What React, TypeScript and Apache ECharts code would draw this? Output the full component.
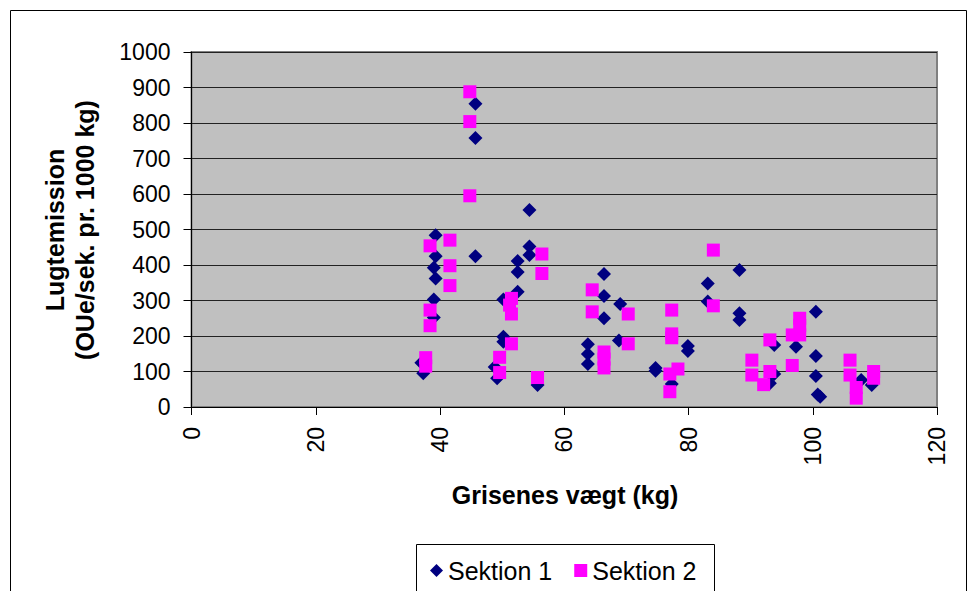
import React, { useEffect, useRef } from "react";
import * as echarts from "echarts";

const seriesNames = ["Sektion 1", "Sektion 2"];

const sektion1: [number, number][] = [
  [37.0, 125], [37.3, 95],
  [39.3, 484], [39.3, 425], [39.0, 392], [39.3, 362], [39.0, 303], [39.0, 252],
  [45.7, 854], [45.7, 758], [45.7, 425],
  [49.2, 81], [48.8, 113], [50.2, 303], [50.2, 198], [50.2, 184],
  [52.5, 411], [52.5, 380], [52.5, 325],
  [54.4, 555], [54.4, 452], [54.4, 428],
  [55.7, 62],
  [63.8, 177], [63.8, 149], [63.8, 121],
  [66.4, 375], [66.4, 313], [66.4, 250],
  [69.0, 290], [68.8, 187],
  [74.7, 110], [74.7, 102],
  [77.3, 65],
  [79.9, 172], [79.9, 158],
  [83.1, 348], [83.1, 297],
  [88.2, 386], [88.2, 264], [88.2, 245],
  [93.8, 175], [93.8, 93], [93.1, 67],
  [97.3, 170],
  [100.5, 268], [100.5, 144], [100.5, 87], [101.2, 29], [100.8, 35],
  [107.8, 76], [109.5, 62],
];

const sektion2: [number, number][] = [
  [37.7, 139], [37.7, 115],
  [38.4, 454], [38.4, 273], [38.4, 229],
  [41.6, 470], [41.6, 398], [41.6, 342],
  [44.8, 888], [44.8, 804], [44.8, 595],
  [49.6, 140], [49.6, 97],
  [51.5, 306], [51.2, 287], [51.5, 262], [51.5, 178],
  [55.7, 83],
  [56.4, 431], [56.4, 376],
  [64.5, 330], [64.5, 268],
  [66.4, 155], [66.4, 135], [66.4, 110],
  [70.3, 262], [70.3, 178],
  [77.0, 93], [77.0, 43], [77.3, 273], [77.3, 206], [77.3, 195],
  [78.3, 107],
  [84.0, 442], [84.0, 285],
  [90.2, 132], [90.2, 90],
  [92.1, 63],
  [93.1, 189], [93.1, 100],
  [96.7, 117], [96.7, 203],
  [97.9, 250], [97.9, 230], [97.9, 203],
  [106.0, 132], [106.0, 90],
  [107.0, 55], [107.0, 25],
  [109.8, 100], [109.8, 81],
];

const xTitle = "Grisenes vægt (kg)";
const yTitle1 = "Lugtemission";
const yTitle2 = "(OUe/sek. pr. 1000 kg)";

const FONT = "'Liberation Sans', Arial, sans-serif";

export default function App() {
  const ref = useRef<HTMLDivElement>(null);
  useEffect(() => {
    document.body.style.margin = "0";
    const chart = echarts.init(ref.current!, null, { renderer: "svg" });
    chart.setOption({
      animation: false,
      backgroundColor: "#ffffff",
      textStyle: { fontFamily: FONT },
      grid: {
        left: 191.5,
        top: 52,
        width: 745.5,
        height: 355,
        show: true,
        backgroundColor: "#C0C0C0",
        borderColor: "#808080",
        borderWidth: 2,
      },
      xAxis: {
        type: "value",
        min: 0,
        max: 120,
        interval: 20,
        axisLine: { show: true, onZero: false, lineStyle: { color: "#000", width: 1 } },
        axisTick: { show: true, inside: false, length: 8, lineStyle: { color: "#000" } },
        splitLine: { show: false },
        axisLabel: {
          rotate: 90,
          margin: 20,
          fontSize: 23,
          color: "#000",
          fontFamily: FONT,
          formatter: (v: number) => String(v),
        },
      },
      yAxis: {
        type: "value",
        min: 0,
        max: 1000,
        interval: 100,
        axisLine: { show: true, lineStyle: { color: "#000", width: 1 } },
        axisTick: { show: true, inside: false, length: 8, lineStyle: { color: "#000" } },
        splitLine: { show: true, lineStyle: { color: "#222", width: 1 } },
        axisLabel: {
          margin: 21,
          fontSize: 23,
          color: "#000",
          fontFamily: FONT,
          formatter: (v: number) => String(v),
        },
      },
      legend: {
        left: 425,
        top: 553,
        itemWidth: 13,
        itemHeight: 13,
        itemGap: 22,
        textStyle: { fontSize: 25, color: "#000", fontFamily: FONT },
        data: [
          { name: seriesNames[0], icon: "diamond" },
          { name: seriesNames[1], icon: "rect" },
        ],
      },
      graphic: [
        {
          type: "rect",
          silent: true,
          z: 100,
          shape: { x: 10.5, y: 10.5, width: 956, height: 620 },
          style: { fill: "none", stroke: "#000", lineWidth: 1 },
        },
        {
          type: "rect",
          silent: true,
          z: 100,
          shape: { x: 416.5, y: 544.5, width: 298, height: 80 },
          style: { fill: "none", stroke: "#000", lineWidth: 1 },
        },
        {
          type: "text",
          x: 565,
          y: 495,
          style: {
            text: xTitle,
            fontSize: 25,
            fontWeight: "bold",
            fontFamily: FONT,
            fill: "#000",
            align: "center",
            verticalAlign: "middle",
          },
        },
        {
          type: "text",
          x: 55,
          y: 230,
          rotation: Math.PI / 2,
          style: {
            text: yTitle1,
            fontSize: 25,
            fontWeight: "bold",
            fontFamily: FONT,
            fill: "#000",
            align: "center",
            verticalAlign: "middle",
          },
        },
        {
          type: "text",
          x: 85,
          y: 230,
          rotation: Math.PI / 2,
          style: {
            text: yTitle2,
            fontSize: 25,
            fontWeight: "bold",
            fontFamily: FONT,
            fill: "#000",
            align: "center",
            verticalAlign: "middle",
          },
        },
      ],
      series: [
        {
          name: seriesNames[0],
          type: "scatter",
          symbol: "diamond",
          symbolSize: 14,
          itemStyle: { color: "#000080", opacity: 1 },
          data: sektion1,
        },
        {
          name: seriesNames[1],
          type: "scatter",
          symbol: "rect",
          symbolSize: 13,
          itemStyle: { color: "#FF00FF", opacity: 1 },
          data: sektion2,
        },
      ],
    });
    return () => chart.dispose();
  }, []);
  return (
    <div
      ref={ref}
      style={{ position: "fixed", left: 0, top: 0, width: 970, height: 591 }}
    />
  );
}
